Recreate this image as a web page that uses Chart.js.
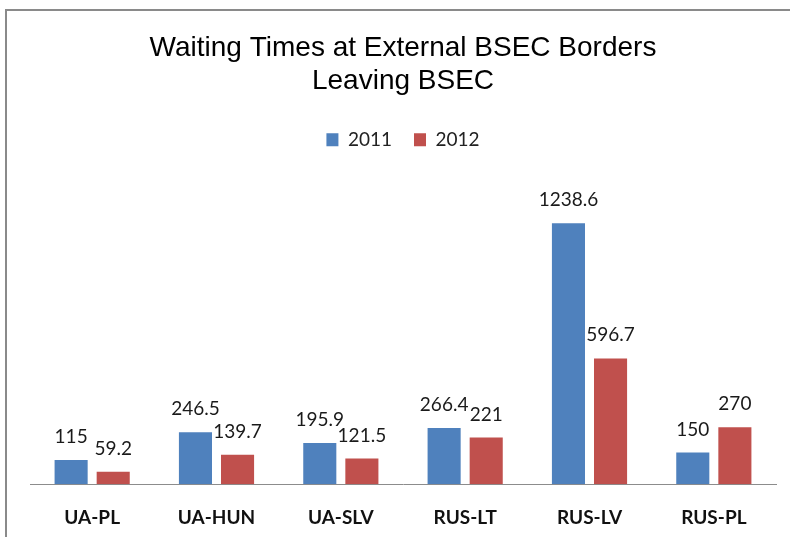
<!DOCTYPE html>
<html>
<head>
<meta charset="utf-8">
<script src="https://cdn.jsdelivr.net/npm/chart.js@4/dist/chart.umd.min.js"></script>
<style>
  html, body { margin: 0; padding: 0; background: #fff; overflow: hidden; width: 790px; height: 537px; }
  #frame { position: absolute; left: 5px; top: 9px; width: 820px; height: 600px; border: 2px solid #8a8a8a; box-sizing: border-box; }
  #wrap { position: absolute; left: 0; top: 0; width: 790px; height: 560px; }
</style>
</head>
<body>
<div id="frame"></div>
<div id="wrap"><canvas id="c" width="790" height="560"></canvas></div>
<script>
const categories = ['UA-PL', 'UA-HUN', 'UA-SLV', 'RUS-LT', 'RUS-LV', 'RUS-PL'];
const seriesNames = ['2011', '2012'];
const values2011 = [115, 246.5, 195.9, 266.4, 1238.6, 150];
const values2012 = [59.2, 139.7, 121.5, 221, 596.7, 270];
const titleLines = ['Waiting Times at External BSEC Borders', 'Leaving BSEC'];

const labelPlugin = {
  id: 'barLabels',
  afterDatasetsDraw(chart) {
    const ctx = chart.ctx;
    ctx.save();
    ctx.font = '19px Lato';
    ctx.fillStyle = '#1a1a1a';
    ctx.textAlign = 'center';
    ctx.textBaseline = 'alphabetic';
    chart.data.datasets.forEach((ds, i) => {
      chart.getDatasetMeta(i).data.forEach((bar, j) => {
        ctx.fillText(String(ds.data[j]), bar.x, bar.y - 17);
      });
    });
    ctx.restore();
  }
};

new Chart(document.getElementById('c'), {
  type: 'bar',
  data: {
    labels: categories,
    datasets: [
      { label: seriesNames[0], data: values2011, backgroundColor: '#4F81BD' },
      { label: seriesNames[1], data: values2012, backgroundColor: '#C0504D' }
    ]
  },
  options: {
    responsive: false,
    animation: false,
    devicePixelRatio: 1,
    layout: { padding: { left: 30, right: 14, top: 0, bottom: 9 } },
    datasets: { bar: { categoryPercentage: 0.677, barPercentage: 0.786 } },
    plugins: {
      title: {
        display: true,
        text: titleLines,
        color: '#000',
        font: { family: 'Liberation Sans', size: 28, weight: 'normal', lineHeight: 1.2 },
        padding: { top: 31, bottom: 10 }
      },
      legend: {
        display: true,
        position: 'top',
        labels: {
          color: '#222',
          font: { family: 'Lato', size: 19 },
          boxWidth: 12,
          boxHeight: 13,
          padding: 22
        }
      },
      tooltip: { enabled: false }
    },
    scales: {
      x: {
        grid: { display: false, drawTicks: false },
        border: { display: true, color: '#8c8c8c', width: 1 },
        ticks: { color: '#111', font: { family: 'Lato', size: 19, weight: 'bold' }, padding: 22 }
      },
      y: {
        display: false,
        min: 0,
        max: 1542
      }
    }
  },
  plugins: [labelPlugin]
});
</script>
</body>
</html>
